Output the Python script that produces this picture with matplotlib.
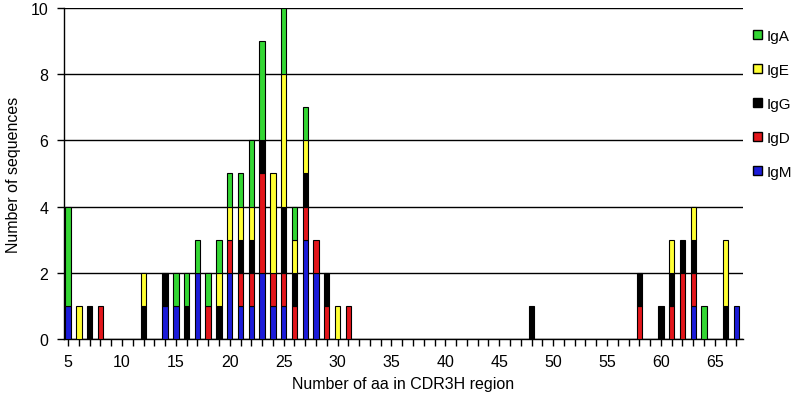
import numpy as np
import matplotlib.pyplot as plt
from matplotlib.patches import Patch
from matplotlib.ticker import MultipleLocator

plt.rcParams['font.family'] = ['Liberation Sans', 'DejaVu Sans']

# CDR3H length (aa) and number of sequences per isotype
lengths = [5, 6, 7, 8, 12, 14, 15, 16, 17, 18, 19, 20, 21, 22, 23, 24, 25, 26,
           27, 28, 29, 30, 31, 48, 58, 60, 61, 62, 63, 64, 66, 67]
igm = [1, 0, 0, 0, 0, 1, 1, 0, 2, 0, 0, 2, 1, 1, 2, 1, 1, 0,
       3, 2, 0, 0, 0, 0, 0, 0, 0, 0, 1, 0, 0, 1]
igd = [0, 0, 0, 1, 0, 0, 0, 0, 0, 1, 0, 1, 1, 1, 3, 1, 1, 1,
       1, 1, 1, 0, 1, 0, 1, 0, 1, 2, 1, 0, 0, 0]
igg = [0, 0, 1, 0, 1, 1, 0, 1, 0, 0, 1, 0, 1, 1, 1, 0, 2, 1,
       1, 0, 1, 0, 0, 1, 1, 1, 1, 1, 1, 0, 1, 0]
ige = [0, 1, 0, 0, 1, 0, 0, 0, 0, 0, 1, 1, 1, 1, 0, 3, 4, 1,
       1, 0, 0, 1, 0, 0, 0, 0, 1, 0, 1, 0, 2, 0]
iga = [3, 0, 0, 0, 0, 0, 1, 1, 1, 1, 1, 1, 1, 2, 3, 0, 2, 1,
       1, 0, 0, 0, 0, 0, 0, 0, 0, 0, 0, 1, 0, 0]

series = [('IgM', igm, '#1c1cd9'), ('IgD', igd, '#e3161b'), ('IgG', igg, '#000000'),
          ('IgE', ige, '#ffff33'), ('IgA', iga, '#33d633')]

fig = plt.figure(figsize=(7.97, 4.02), dpi=100)
ax = fig.add_axes([0.080, 0.154, 0.852, 0.824])

bottom = np.zeros(len(lengths))
for name, vals, col in series:
    vals = np.array(vals)
    mask = vals > 0
    ax.bar(np.array(lengths)[mask], vals[mask], bottom=bottom[mask], width=0.5,
           color=col, edgecolor='black', linewidth=0.8, zorder=3)
    bottom += vals

ax.set_xlim(4.6, 67.6)
ax.set_ylim(0, 10)
ax.set_yticks(range(0, 11, 2))
ax.xaxis.set_major_locator(MultipleLocator(5))
ax.xaxis.set_minor_locator(MultipleLocator(1))
ax.tick_params(axis='both', direction='out', length=5, width=1, labelsize=11.5, color='black')
ax.tick_params(axis='x', which='minor', length=5, width=1)
ax.tick_params(axis='x', pad=6)
ax.tick_params(axis='y', pad=6)
ax.yaxis.grid(True, color='black', linewidth=1)
ax.set_axisbelow(True)
for s in ['top', 'right']:
    ax.spines[s].set_visible(False)
ax.spines['left'].set_linewidth(1)
ax.spines['bottom'].set_linewidth(1)

ax.set_xlabel('Number of aa in CDR3H region', fontsize=11.5, labelpad=5)
ax.set_ylabel('Number of sequences', fontsize=11.5, labelpad=7)

handles = [Patch(facecolor=col, edgecolor='black', label=name) for name, _, col in series[::-1]]
fig.legend(handles=handles, loc='upper left', bbox_to_anchor=(0.945, 0.925), frameon=False,
           borderpad=0, borderaxespad=0, handlelength=0.55, handleheight=0.55,
           handletextpad=0.3, labelspacing=1.3, fontsize=11)

fig.savefig('out.png', dpi=100)
